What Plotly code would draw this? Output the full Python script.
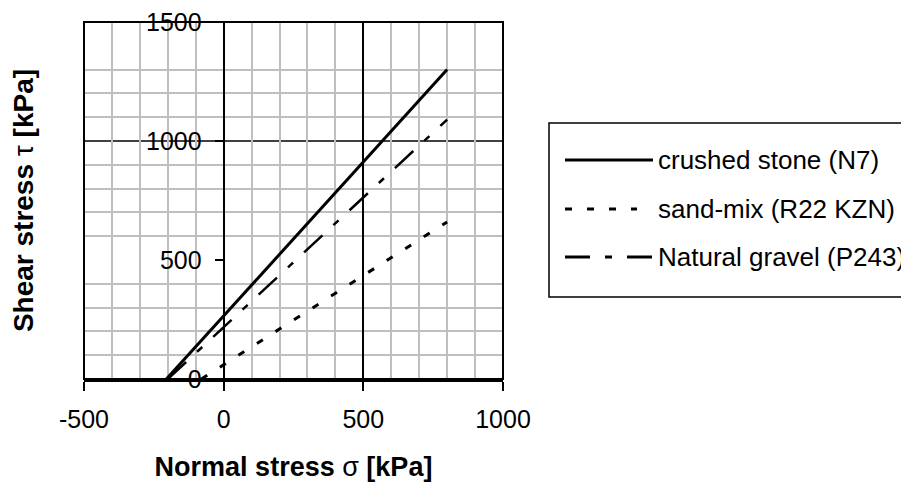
import plotly.graph_objects as go

# ---- data ----
series_names = ["crushed stone (N7)", "sand-mix (R22 KZN)", "Natural gravel (P243)"]
crushed_sigma = [-205, 800]
crushed_tau = [0, 1300]
sand_sigma = [-80, 800]
sand_tau = [0, 660]
gravel_sigma = [-200, 800]
gravel_tau = [0, 1090]

x_ticks = [-500, 0, 500, 1000]
x_tick_labels = ["-500", "0", "500", "1000"]
y_ticks = [0, 500, 1000, 1500]
x_minor = [-400, -300, -200, -100, 100, 200, 300, 400, 600, 700, 800, 900]
y_minor = [100, 200, 300, 400, 600, 700, 800, 900, 1100, 1200, 1300]

# ---- layout geometry (screen pixels; page body adds an 8px offset) ----
OFF = 8
W, H = 909 - OFF, 482 - OFF
L, R, T, B = 84 - OFF, 503 - OFF, 22 - OFF, 379 - OFF
FONT = "Liberation Sans, Arial, sans-serif"

def px(x):
    return (x - OFF - L) / (R - L)

def py(y):
    return (B - (y - OFF)) / (B - T)

SAND_DASH = "7px,15px"
GRAVEL_DASH = "25px,15px,7px,15px"

fig = go.Figure()
fig.add_trace(go.Scatter(x=crushed_sigma, y=crushed_tau, mode="lines", name=series_names[0],
                         line=dict(color="black", width=3), showlegend=False))
fig.add_trace(go.Scatter(x=sand_sigma, y=sand_tau, mode="lines", name=series_names[1],
                         line=dict(color="black", width=3, dash=SAND_DASH), showlegend=False))
fig.add_trace(go.Scatter(x=gravel_sigma, y=gravel_tau, mode="lines", name=series_names[2],
                         line=dict(color="black", width=2.5, dash=GRAVEL_DASH), showlegend=False))

grid_gray = "#bfbfbf"
fig.update_xaxes(
    range=[-500, 1000], tickmode="array", tickvals=x_ticks, ticktext=x_tick_labels,
    ticks="outside", ticklen=9, tickwidth=2, tickcolor="black",
    showline=True, linewidth=3, linecolor="black",
    showgrid=True, gridcolor="black", gridwidth=1.5, zeroline=False,
    tickfont=dict(family=FONT, size=25, color="black"),
    ticklabelstandoff=7, ticklabeloverflow="allow",
    minor=dict(tickmode="array", tickvals=x_minor, showgrid=True, gridcolor=grid_gray, gridwidth=1.5, ticks=""),
    title=dict(text="<b>Normal stress</b> σ <b>[kPa]</b>", font=dict(family=FONT, size=27, color="black"),
               standoff=35),
)
fig.update_yaxes(
    range=[0, 1500], tickmode="array", tickvals=y_ticks,
    anchor="free", position=1/3,
    ticks="outside", ticklen=8, tickwidth=2, tickcolor="black",
    showline=True, linewidth=2, linecolor="black",
    showgrid=False, zeroline=False,
    tickfont=dict(family=FONT, size=25, color="black"),
    ticklabelstandoff=8, ticklabeloverflow="allow",
    minor=dict(tickmode="array", tickvals=y_minor, showgrid=True, gridcolor=grid_gray, gridwidth=1.5, ticks=""),
    title=dict(text="<b>Shear stress</b> τ <b>[kPa]</b>", font=dict(family=FONT, size=28, color="black"),
               standoff=104),
)

shapes = []
# plot frame
shapes.append(dict(type="rect", xref="paper", yref="paper", x0=0, x1=1, y0=0, y1=1,
                   line=dict(color="black", width=2), layer="above"))
# major horizontal line at 1000
shapes.append(dict(type="line", xref="paper", yref="y", x0=0, x1=1, y0=1000, y1=1000,
                   line=dict(color="black", width=1.5), layer="between"))
# legend box (its right side runs off the picture, as in the reference)
shapes.append(dict(type="rect", xref="paper", yref="paper", x0=px(549), x1=px(915), y0=py(297), y1=py(123),
                   line=dict(color="black", width=1.5), fillcolor="white"))
legend_rows = [160, 209, 257]
legend_dashes = ["solid", SAND_DASH, GRAVEL_DASH]
legend_ends = [653, 637, 653]
annotations = []
for name, yrow, dash, xend in zip(series_names, legend_rows, legend_dashes, legend_ends):
    shapes.append(dict(type="line", xref="paper", yref="paper", x0=px(565), x1=px(xend), y0=py(yrow), y1=py(yrow),
                       line=dict(color="black", width=3, dash=dash)))
    annotations.append(dict(xref="paper", yref="paper", x=px(656), y=py(yrow), text=name, showarrow=False,
                            xanchor="left", yanchor="middle", font=dict(family=FONT, size=26, color="black")))

fig.update_layout(
    width=W, height=H,
    margin=dict(l=L, r=W - R, t=T, b=H - B, autoexpand=False),
    paper_bgcolor="white", plot_bgcolor="white",
    shapes=shapes, annotations=annotations,
    font=dict(family=FONT, color="black"),
    showlegend=False,
)

fig.write_html("out.html")
